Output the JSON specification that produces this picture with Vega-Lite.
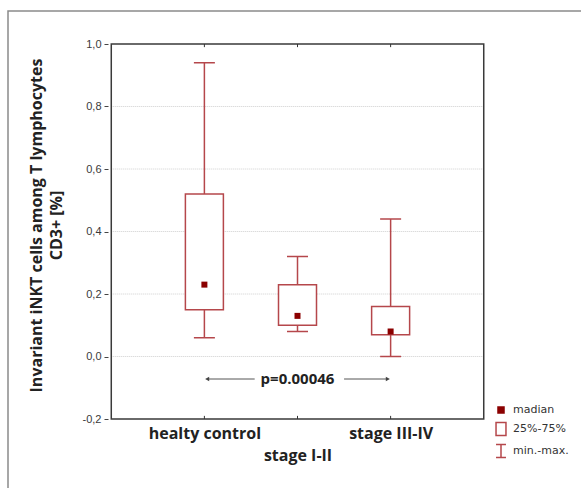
{
  "$schema": "https://vega.github.io/schema/vega-lite/v6.json",
  "width": 580,
  "height": 489,
  "autosize": {"type": "none"},
  "padding": {"left": 8, "top": 11, "right": 0, "bottom": 0},
  "background": "white",
  "config": {"view": {"stroke": "#8a8a8a", "strokeWidth": 1.5}, "font": "Liberation Sans"},
  "datasets": {
    "boxes": [
      {"group": "healty control", "pos": 1, "min": 0.06, "q1": 0.15, "median": 0.23, "q3": 0.52, "max": 0.94},
      {"group": "stage I-II", "pos": 2, "min": 0.08, "q1": 0.10, "median": 0.13, "q3": 0.23, "max": 0.32},
      {"group": "stage III-IV", "pos": 3, "min": 0.0, "q1": 0.07, "median": 0.08, "q3": 0.16, "max": 0.44}
    ],
    "grid": [{"g": 0}, {"g": 0.2}, {"g": 0.4}, {"g": 0.6}, {"g": 0.8}],
    "legend": [{"item": "madian"}, {"item": "25%-75%"}, {"item": "min.-max."}]
  },
  "layer": [
    {
      "data": {"name": "grid"},
      "mark": {"type": "rule", "color": "#cfcfcf", "strokeDash": [1, 1], "strokeWidth": 1},
      "encoding": {
        "y": {
          "field": "g", "type": "quantitative",
          "scale": {"domain": [-0.4592, 1.1056], "nice": false, "zero": false},
          "axis": {
            "values": [-0.2, 0, 0.2, 0.4, 0.6, 0.8, 1.0],
            "offset": -100, "domain": false, "grid": false, "ticks": true, "tickSize": 4, "tickColor": "#444", "tickWidth": 1,
            "labelExpr": "replace(replace(format(datum.value, '.1f'), '.', ','), '\u2212', '-')",
            "labelFont": "Liberation Sans", "labelFontSize": 11, "labelColor": "#3a3a3a", "labelPadding": 3,
            "title": ["Invariant iNKT cells among T lymphocytes", "CD3+ [%]"],
            "titleFont": "Open Sans", "titleFontWeight": "bold", "titleFontSize": 16, "titleColor": "#222",
            "titleX": -72, "titleY": 214, "titleAngle": -90, "titleBaseline": "middle", "titleAlign": "center", "titleLineHeight": 20
          }
        },
        "x": {
          "datum": 0, "type": "quantitative",
          "scale": {"domain": [-1.0554, 5.066], "nice": false, "zero": false},
          "axis": {
            "values": [1, 2, 3], "offset": -81, "domain": false, "grid": false, "ticks": false, "tickSize": 0,
            "labelExpr": "datum.value == 1 ? 'healty control' : datum.value == 2 ? ['', 'stage I-II'] : 'stage III-IV'",
            "labelFont": "Open Sans", "labelFontWeight": "bold", "labelFontSize": 16, "labelColor": "#222",
            "labelPadding": 6, "labelLineHeight": 22, "labelBaseline": "top", "labelFlush": false, "labelOverlap": false,
            "title": null
          }
        },
        "x2": {"datum": 4}
      }
    },
    {
      "data": {"name": "boxes"},
      "mark": {"type": "rule", "color": "#b5474b", "strokeWidth": 1.5},
      "encoding": {
        "x": {"field": "pos", "type": "quantitative"},
        "y": {"field": "min", "type": "quantitative"},
        "y2": {"field": "max"}
      }
    },
    {
      "data": {"name": "boxes"},
      "mark": {"type": "tick", "orient": "horizontal", "size": 21, "thickness": 1.5, "color": "#b5474b", "opacity": 1},
      "encoding": {
        "x": {"field": "pos", "type": "quantitative"},
        "y": {"field": "max", "type": "quantitative"}
      }
    },
    {
      "data": {"name": "boxes"},
      "mark": {"type": "tick", "orient": "horizontal", "size": 21, "thickness": 1.5, "color": "#b5474b", "opacity": 1},
      "encoding": {
        "x": {"field": "pos", "type": "quantitative"},
        "y": {"field": "min", "type": "quantitative"}
      }
    },
    {
      "data": {"name": "boxes"},
      "mark": {"type": "bar", "orient": "vertical", "width": 38, "fill": "white", "stroke": "#b5474b", "strokeWidth": 1.5},
      "encoding": {
        "x": {"field": "pos", "type": "quantitative"},
        "y": {"field": "q1", "type": "quantitative"},
        "y2": {"field": "q3"}
      }
    },
    {
      "data": {"name": "boxes"},
      "mark": {"type": "square", "size": 36, "color": "#8b0000", "opacity": 1},
      "encoding": {
        "x": {"field": "pos", "type": "quantitative"},
        "y": {"field": "median", "type": "quantitative"}
      }
    },
    {
      "data": {"values": [{}]},
      "mark": {"type": "rect", "fillOpacity": 0, "stroke": "#3a3a3a", "strokeWidth": 1.5},
      "encoding": {
        "x": {"datum": 0, "type": "quantitative"},
        "x2": {"datum": 4},
        "y": {"datum": -0.2, "type": "quantitative"},
        "y2": {"datum": 1.0}
      }
    },
    {
      "data": {"name": "boxes"},
      "mark": {"type": "rule", "color": "#333", "strokeWidth": 1},
      "encoding": {
        "x": {"field": "pos", "type": "quantitative"},
        "y": {"datum": 1.0, "type": "quantitative"},
        "y2": {"datum": 0.99}
      }
    },
    {
      "data": {"name": "boxes"},
      "mark": {"type": "rule", "color": "#333", "strokeWidth": 1},
      "encoding": {
        "x": {"field": "pos", "type": "quantitative"},
        "y": {"datum": -0.2, "type": "quantitative"},
        "y2": {"datum": -0.19}
      }
    },
    {
      "data": {"values": [{}]},
      "mark": {"type": "rule", "color": "#555", "strokeWidth": 1},
      "encoding": {
        "x": {"datum": 1.03, "type": "quantitative"},
        "x2": {"datum": 1.54},
        "y": {"datum": -0.072, "type": "quantitative"}
      }
    },
    {
      "data": {"values": [{}]},
      "mark": {"type": "rule", "color": "#555", "strokeWidth": 1},
      "encoding": {
        "x": {"datum": 2.5, "type": "quantitative"},
        "x2": {"datum": 2.97},
        "y": {"datum": -0.072, "type": "quantitative"}
      }
    },
    {
      "data": {"values": [{}]},
      "mark": {"type": "point", "shape": "triangle-left", "size": 22, "filled": true, "color": "#444", "opacity": 1},
      "encoding": {
        "x": {"datum": 1.03, "type": "quantitative"},
        "y": {"datum": -0.072, "type": "quantitative"}
      }
    },
    {
      "data": {"values": [{}]},
      "mark": {"type": "point", "shape": "triangle-right", "size": 22, "filled": true, "color": "#444", "opacity": 1},
      "encoding": {
        "x": {"datum": 2.97, "type": "quantitative"},
        "y": {"datum": -0.072, "type": "quantitative"}
      }
    },
    {
      "data": {"values": [{}]},
      "mark": {"type": "text", "text": "p=0.00046", "font": "Open Sans", "fontWeight": "bold", "fontSize": 15, "color": "#222", "baseline": "middle", "align": "center"},
      "encoding": {
        "x": {"datum": 2, "type": "quantitative"},
        "y": {"datum": -0.072, "type": "quantitative"}
      }
    },
    {
      "data": {"name": "legend"},
      "mark": {"type": "point", "opacity": 0, "strokeWidth": 1.5, "filled": false},
      "encoding": {
        "shape": {
          "field": "item", "type": "nominal",
          "scale": {
            "domain": ["madian", "25%-75%", "min.-max."],
            "range": ["M-0.43,-0.43H0.43V0.43H-0.43Z", "M-0.71,-0.93H0.71V0.93H-0.71Z", "M-0.71,-0.93H0.71M0,-0.93V0.93M-0.71,0.93H0.71"]
          },
          "legend": {
            "title": null, "orient": "none", "legendX": 485, "legendY": 391, "padding": 0,
            "symbolSize": 196, "symbolStrokeWidth": 1.5, "symbolOpacity": 1, "rowPadding": 2,
            "labelFont": "DejaVu Sans", "labelFontSize": 11, "labelColor": "#333", "labelOffset": 4,
            "encode": {"symbols": {"update": {"opacity": {"value": 1}}}}
          }
        },
        "fill": {
          "field": "item", "type": "nominal",
          "scale": {"domain": ["madian", "25%-75%", "min.-max."], "range": ["#8b0000", "#ffffff", "#ffffff"]}
        },
        "stroke": {
          "field": "item", "type": "nominal",
          "scale": {"domain": ["madian", "25%-75%", "min.-max."], "range": ["#8b0000", "#b5474b", "#b5474b"]}
        }
      }
    }
  ]
}
